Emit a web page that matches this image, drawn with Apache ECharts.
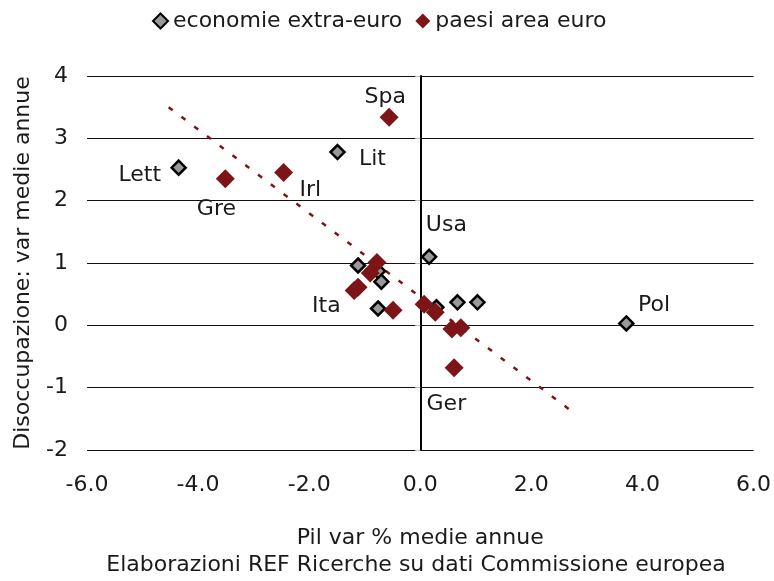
<!DOCTYPE html>
<html>
<head>
<meta charset="utf-8">
<script src="https://cdn.jsdelivr.net/npm/echarts@6/dist/echarts.min.js"></script>
<style>
  html, body { margin: 0; padding: 0; background: #ffffff; }
  #chart { width: 774px; height: 581px; }
</style>
</head>
<body>
<div id="chart"></div>
<script>
// Non-euro economies: [GDP change %, unemployment change]
const extraEuro = [
  [-4.35, 2.53],  // Lett
  [-1.49, 2.78],  // Lit
  [0.16, 1.10],   // Usa
  [3.71, 0.03],   // Pol
  [-1.12, 0.96],
  [-0.76, 0.87],
  [-0.70, 0.70],
  [-0.76, 0.27],
  [0.29, 0.29],
  [0.67, 0.37],
  [1.03, 0.37]
];

// Euro-area countries
const areaEuro = [
  [-0.56, 3.34],  // Spa
  [-2.46, 2.45],  // Irl
  [-3.51, 2.35],  // Gre
  [-0.78, 1.01],
  [-0.90, 0.84],
  [-1.19, 0.56],  // Ita
  [-1.12, 0.61],
  [-0.49, 0.24],
  [0.07, 0.34],
  [0.27, 0.21],
  [0.57, -0.06],
  [0.73, -0.04],
  [0.61, -0.68]   // Ger
];

// Linear trend for the euro-area group (endpoints)
const trendLine = [[-4.53, 3.50], [2.73, -1.38]];

// Country name labels, anchored in data units
const countryLabels = [
  { name: 'Spa',  value: [-0.63, 3.66] },
  { name: 'Lett', value: [-5.05, 2.40] },
  { name: 'Lit',  value: [-0.86, 2.66] },
  { name: 'Irl',  value: [-1.98, 2.16] },
  { name: 'Gre',  value: [-3.67, 1.86] },
  { name: 'Usa',  value: [0.47, 1.60] },
  { name: 'Ita',  value: [-1.69, 0.30] },
  { name: 'Pol',  value: [4.21, 0.32] },
  { name: 'Ger',  value: [0.47, -1.26] }
];

const seriesNames = ['economie extra-euro', 'paesi area euro'];
const xTitle = 'Pil var % medie annue';
const yTitle = 'Disoccupazione: var medie annue';
const sourceNote = 'Elaborazioni REF Ricerche su dati Commissione europea';

const FONT = 'DejaVu Sans';
const FS = 22;
const TEXT = '#1a1a1a';
const RED = '#7d1417';
const GREY = '#999999';

const chart = echarts.init(document.getElementById('chart'), null, { renderer: 'canvas' });

chart.setOption({
  animation: false,
  backgroundColor: '#ffffff',
  textStyle: { fontFamily: FONT, color: TEXT },
  grid: { left: 87, right: 20, top: 76, bottom: 131, containLabel: false },
  legend: {
    top: 5,
    left: 147,
    itemWidth: 15,
    itemHeight: 15,
    itemGap: 13,
    icon: 'diamond',
    textStyle: { fontFamily: FONT, fontSize: FS, color: TEXT },
    data: seriesNames
  },
  xAxis: {
    type: 'value',
    min: -6,
    max: 6,
    interval: 2,
    axisLine: { show: false, onZero: false },
    axisTick: { show: false },
    splitLine: { show: false },
    axisLabel: {
      fontFamily: FONT, fontSize: FS, color: TEXT, margin: 24,
      formatter: v => v.toFixed(1)
    },
    name: xTitle,
    nameLocation: 'middle',
    nameGap: 77,
    nameTextStyle: { fontFamily: FONT, fontSize: FS, color: TEXT }
  },
  yAxis: [
    {
      type: 'value',
      min: -2,
      max: 4,
      interval: 1,
      axisLine: { show: false, onZero: false },
      axisTick: { show: false },
      splitLine: { show: true, lineStyle: { color: '#111111', width: 1 } },
      axisLabel: { fontFamily: FONT, fontSize: FS, color: TEXT, margin: 19 },
      name: yTitle,
      nameLocation: 'middle',
      nameGap: 53,
      nameTextStyle: { fontFamily: FONT, fontSize: FS, color: TEXT }
    },
    {
      // vertical axis line through x = 0
      type: 'value',
      min: -2,
      max: 4,
      interval: 1,
      position: 'left',
      axisLine: { show: true, onZero: true, lineStyle: { color: '#000000', width: 2 } },
      axisTick: { show: true, length: 5, lineStyle: { color: '#bbbbbb', width: 1 } },
      axisLabel: { show: false },
      splitLine: { show: false }
    }
  ],
  graphic: [
    {
      type: 'text',
      x: 416,
      y: 554,
      style: {
        text: sourceNote,
        font: FS + 'px "DejaVu Sans"',
        fill: TEXT,
        align: 'center',
        verticalAlign: 'top'
      }
    }
  ],
  series: [
    {
      name: 'trend',
      type: 'line',
      data: trendLine,
      symbol: 'none',
      silent: true,
      z: 1,
      lineStyle: { color: RED, width: 2.5, type: [5, 11] }
    },
    {
      name: seriesNames[0],
      type: 'scatter',
      data: extraEuro,
      symbol: 'diamond',
      symbolSize: 14,
      z: 3,
      itemStyle: { color: GREY, borderColor: '#000000', borderWidth: 2.5, opacity: 1 }
    },
    {
      name: seriesNames[1],
      type: 'scatter',
      data: areaEuro,
      symbol: 'diamond',
      symbolSize: 19,
      z: 4,
      itemStyle: { color: RED, opacity: 1 }
    },
    {
      name: 'labels',
      type: 'scatter',
      data: countryLabels,
      symbolSize: 0,
      silent: true,
      z: 5,
      itemStyle: { opacity: 1 },
      label: {
        show: true,
        position: 'inside',
        formatter: p => p.name,
        fontFamily: FONT,
        fontSize: FS,
        color: TEXT,
        textBorderWidth: 0,
        textBorderColor: 'transparent'
      }
    }
  ]
});
</script>
</body>
</html>
